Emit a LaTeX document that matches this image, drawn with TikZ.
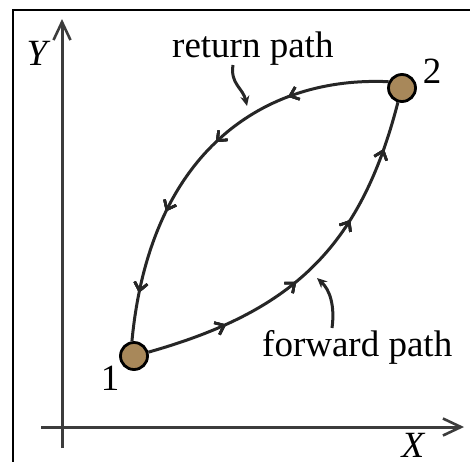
\documentclass[tikz,border=0pt]{standalone}
\usepackage{fontspec}
\setmainfont{Liberation Serif}
\usetikzlibrary{arrows.meta,decorations.markings}
\definecolor{nodebrown}{RGB}{168,136,90}
\definecolor{axisgray}{RGB}{60,60,60}
\tikzset{
  lbl/.style={font=\fontsize{37}{44}\selectfont, inner sep=0pt, anchor=base},
  state/.style={circle, draw=black, line width=2.8pt, fill=nodebrown, minimum size=27pt, inner sep=0pt},
  axis/.style={draw=axisgray, line width=3pt, -{Straight Barb[length=18pt,width=17pt,line width=2.6pt]}},
  pathline/.style={draw=black!85, line width=3pt},
  barb/.style={decoration={markings,
     mark=at position #1 with {\arrow{Straight Barb[length=8pt,width=13pt,line width=2.6pt]}}},
     postaction={decorate}},
  pointer/.style={draw=black!85, line width=3pt, -{Stealth[length=10pt,width=9pt]}},
}
\begin{document}
\begin{tikzpicture}[x=1pt,y=-1pt]
\useasboundingbox (0,0) rectangle (470,461);
\clip (0,0) rectangle (470,461);
% frame (cropped on right and bottom)
\draw[line width=2pt] (13,480) -- (13,10) -- (490,10);
% axes
\coordinate (yb) at (62,448);
\coordinate (yt) at (62,19);
\coordinate (xl) at (41,427);
\coordinate (xr) at (464,427);
\draw[axis] (yb) -- (yt);
\draw[axis] (xl) -- (xr);
\node[lbl, font=\fontsize{37}{44}\selectfont\itshape] (Y) at (37,65) {Y};
\node[lbl, font=\fontsize{37}{44}\selectfont\itshape] (X) at (413,457) {X};
% states
\node[state] (n1) at (134,356) {};
\node[state] (n2) at (402,88) {};
\node[lbl] (l1) at (110,390) {1};
\node[lbl] (l2) at (432,83) {2};
% return path
\draw[pathline, barb=0.25, barb=0.46, barb=0.67, barb=0.88]
  (n2.155) .. controls (265,76) and (150,150) .. (n1.98);
% forward path
\draw[pathline, barb=0.22, barb=0.44, barb=0.66, barb=0.87]
  (n1.15) .. controls (290,312) and (360,250) .. (n2.254);
% labels with pointers
\node[lbl, anchor=base west] (ret) at (172,57) {return path};
\node[lbl, anchor=base west] (fwd) at (262,356) {forward path};
\coordinate (rs) at (233,65);
\coordinate (rt) at (247,106);
\coordinate (fs) at (332,328);
\coordinate (ft) at (317,278);
\draw[pointer] (rs) .. controls (230,84) and (243,88) .. (rt);
\draw[pointer] (fs) .. controls (335,306) and (330,290) .. (ft);
\end{tikzpicture}
\end{document}
